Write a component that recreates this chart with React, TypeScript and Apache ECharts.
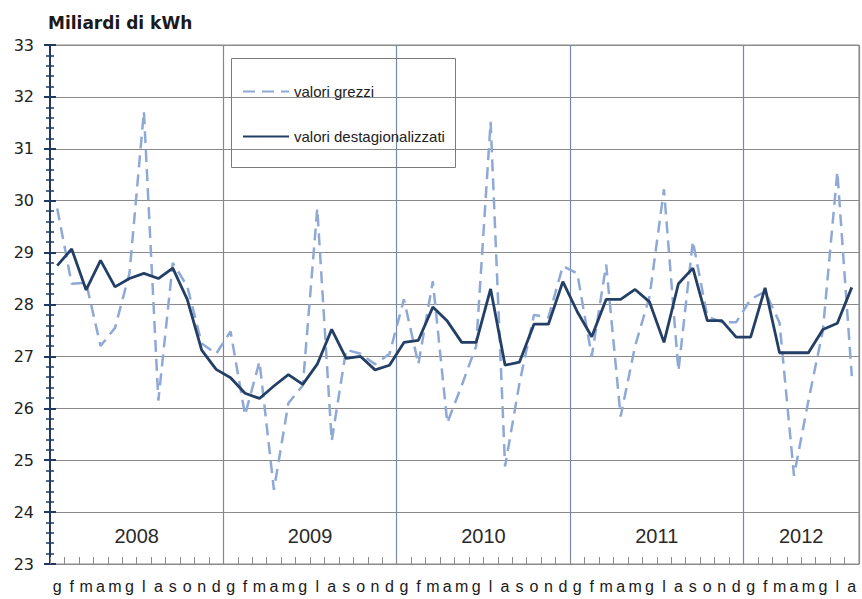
import React, { useEffect, useRef } from 'react';
import * as echarts from 'echarts';

// ---- data ----
const monthLetters = ['g', 'f', 'm', 'a', 'm', 'g', 'l', 'a', 's', 'o', 'n', 'd'];
const years = ['2008', '2009', '2010', '2011', '2012'];
const monthsPerYear = [12, 12, 12, 12, 8];

// valori grezzi (raw), Jan 2008 .. Aug 2012
const rawValues = [
  29.85, 28.4, 28.42, 27.2, 27.55, 28.6, 31.72, 26.15, 28.8, 28.35, 27.25, 27.05,
  27.48, 25.87, 26.9, 24.43, 26.1, 26.44, 29.85, 25.37, 27.13, 27.05, 26.85, 27.05,
  28.1, 26.85, 28.45, 25.72, 26.44, 27.2, 31.52, 24.88, 26.49, 27.8, 27.75, 28.74,
  28.6, 27.0, 28.77, 25.84, 27.2, 28.15, 30.22, 26.72, 29.22, 27.77, 27.66, 27.66,
  28.1, 28.25, 27.65, 24.7, 26.15, 27.5, 30.56, 26.62,
];

// valori destagionalizzati (seasonally adjusted)
const adjValues = [
  28.75, 29.07, 28.28, 28.85, 28.34, 28.5, 28.6, 28.5, 28.7, 28.1, 27.12, 26.75,
  26.59, 26.29, 26.19, 26.43, 26.65, 26.46, 26.85, 27.52, 26.96, 27.0, 26.74, 26.83,
  27.27, 27.31, 27.95, 27.68, 27.27, 27.27, 28.3, 26.83, 26.89, 27.62, 27.62, 28.44,
  27.86, 27.38, 28.1, 28.1, 28.29, 28.05, 27.27, 28.4, 28.7, 27.69, 27.69, 27.37,
  27.37, 28.32, 27.07, 27.07, 27.07, 27.52, 27.64, 28.33,
];

const yMin = 23;
const yMax = 33;
const yStep = 1;

const seriesNames = ['valori grezzi', 'valori destagionalizzati'];
const titleText = 'Miliardi di kWh';

// ---- derived ----
const categories: string[] = [];
years.forEach((y, k) => {
  for (let j = 0; j < monthsPerYear[k]; j++) categories.push(`${y}-${j}`);
});
const yearStarts: number[] = [];
{
  let acc = 0;
  monthsPerYear.forEach((n) => {
    yearStarts.push(acc);
    acc += n;
  });
}

export default function App() {
  const ref = useRef<HTMLDivElement>(null);

  useEffect(() => {
    if (!ref.current) return;
    const chart = echarts.init(ref.current, undefined, { renderer: 'svg' });

    const axisNavy = '#1f3864';
    const gridGray = '#8a8a8a';

    const option: any = {
      animation: false,
      backgroundColor: '#ffffff',
      title: {
        text: titleText,
        left: 48,
        top: 14,
        padding: 0,
        textStyle: {
          fontFamily: 'DejaVu Sans',
          fontWeight: 'bold',
          fontSize: 17,
          color: '#1a1a1a',
        },
      },
      legend: {
        orient: 'vertical',
        left: 242,
        top: 84,
        padding: 0,
        itemGap: 30,
        itemWidth: 46,
        itemHeight: 14,
        itemStyle: { opacity: 0 },
        data: seriesNames,
        textStyle: { fontFamily: 'Liberation Sans', fontSize: 15, color: '#222' },
      },
      graphic: [
        {
          type: 'rect',
          left: 231,
          top: 58,
          z: 10,
          shape: { width: 224, height: 109 },
          style: { fill: 'rgba(0,0,0,0)', stroke: '#7a7a7a', lineWidth: 1 },
        },
      ],
      grid: {
        left: 50,
        right: 3,
        top: 45,
        bottom: 35,
        show: true,
        borderColor: gridGray,
        borderWidth: 1,
      },
      xAxis: {
        type: 'category',
        data: categories,
        boundaryGap: true,
        axisLine: { lineStyle: { color: gridGray, width: 1 } },
        axisTick: {
          show: true,
          inside: true,
          length: 7,
          interval: 0,
          lineStyle: { color: gridGray, width: 1 },
        },
        axisLabel: {
          interval: 0,
          margin: 14,
          fontFamily: 'Liberation Sans',
          fontSize: 16,
          color: '#1a1a1a',
          formatter: (v: string) => monthLetters[Number(v.split('-')[1])],
        },
        splitLine: {
          show: true,
          interval: (i: number) => i > 0 && yearStarts.includes(i),
          lineStyle: { color: '#7589ab', width: 1.2 },
        },
      },
      yAxis: [
        {
          type: 'value',
          min: yMin,
          max: yMax,
          interval: yStep,
          axisLine: { show: true, lineStyle: { color: axisNavy, width: 2 } },
          axisTick: { show: true, length: 6, lineStyle: { color: axisNavy, width: 2 } },
          minorTick: { show: true, splitNumber: 5, length: 4, lineStyle: { color: axisNavy, width: 1.5 } },
          axisLabel: { fontFamily: 'DejaVu Sans', fontSize: 16, color: '#222', margin: 16 },
          splitLine: { show: true, lineStyle: { color: gridGray, width: 1 } },
        },
        {
          type: 'value',
          min: yMin,
          max: yMax,
          interval: yStep,
          position: 'left',
          axisLine: { show: false },
          axisTick: { show: true, inside: true, length: 6, lineStyle: { color: axisNavy, width: 2 } },
          minorTick: { show: true, splitNumber: 5, length: 4, lineStyle: { color: axisNavy, width: 1.5 } },
          axisLabel: { show: false },
          splitLine: { show: false },
        },
      ],
      series: [
        {
          name: seriesNames[0],
          type: 'line',
          data: rawValues,
          symbol: 'none',
          z: 3,
          lineStyle: { color: '#8fa9d6', width: 2.5, type: [12, 7] },
          itemStyle: { color: '#8fa9d6' },
          markArea: {
            silent: true,
            itemStyle: { color: 'rgba(0,0,0,0)' },
            label: {
              show: true,
              position: 'insideBottom',
              distance: 18,
              fontFamily: 'Liberation Sans',
              fontSize: 20,
              color: '#2a2a2a',
            },
            data: years.map((y, k) => [
              { name: y, xAxis: categories[yearStarts[k]] },
              { xAxis: categories[yearStarts[k] + monthsPerYear[k] - 1] },
            ]),
          },
        },
        {
          name: seriesNames[1],
          type: 'line',
          data: adjValues,
          symbol: 'none',
          z: 4,
          lineStyle: { color: '#233f66', width: 2.8 },
          itemStyle: { color: '#233f66' },
        },
      ],
    };

    chart.setOption(option);
    return () => chart.dispose();
  }, []);

  return (
    <div
      ref={ref}
      style={{ position: 'absolute', left: 0, top: 0, width: 862, height: 599 }}
    />
  );
}
